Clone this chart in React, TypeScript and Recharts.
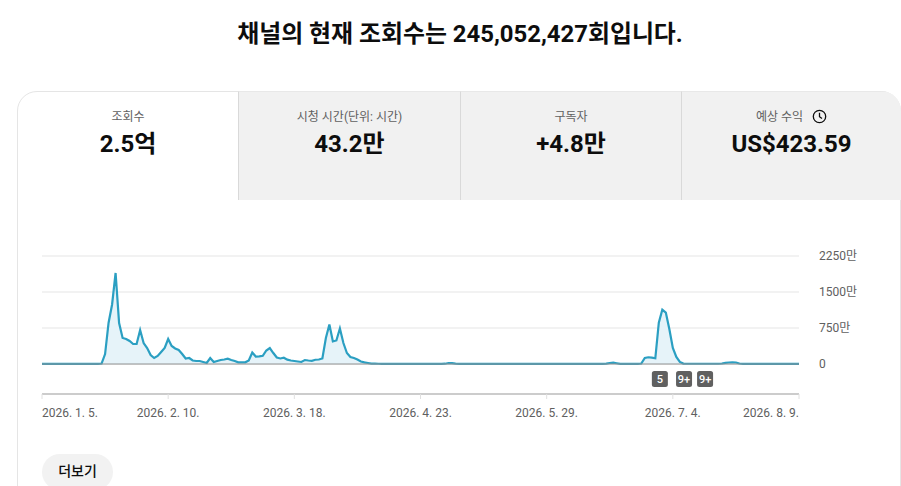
import React from "react";
import { ComposedChart, Area, XAxis, YAxis, CartesianGrid, ReferenceLine, ReferenceDot } from "recharts";

const FONT = 'Roboto, "Noto Sans CJK KR", sans-serif';

// Views per day, in units of 10,000 (만), day 0 = 2026-01-05
const dailyViews: number[] = [
  1, 1, 1, 1, 1, 1, 1, 1, 1, 1, 1, 1, 1, 1, 1, 1, 1, 10, 208, 860,
  1240, 1896, 854, 542, 521, 479, 417, 417, 708, 437, 333, 187, 125, 167, 250, 333, 521, 375, 323, 292,
  208, 115, 125, 73, 62, 62, 42, 21, 125, 42, 62, 83, 94, 110, 83, 62, 35, 35, 35, 73,
  240, 156, 160, 171, 281, 333, 229, 135, 115, 131, 90, 73, 62, 52, 42, 83, 73, 67, 88, 94,
  115, 542, 823, 469, 490, 740, 437, 229, 146, 125, 94, 52, 35, 21, 8, 6, 5, 4, 4, 3,
  3, 3, 3, 3, 3, 3, 3, 3, 3, 3, 3, 3, 3, 3, 4, 6, 21, 17, 6, 3,
  3, 3, 3, 3, 3, 3, 3, 3, 3, 3, 3, 3, 3, 3, 3, 3, 3, 3, 3, 3,
  3, 3, 3, 3, 3, 3, 3, 3, 3, 3, 3, 3, 3, 3, 3, 3, 3, 3, 3, 3,
  3, 8, 21, 27, 15, 4, 4, 4, 4, 4, 4, 10, 125, 140, 131, 119, 860, 1130, 1070, 729,
  333, 146, 42, 8, 5, 5, 5, 5, 5, 5, 5, 5, 5, 5, 10, 25, 31, 35, 31, 10,
  3, 3, 3, 3, 3, 3, 3, 3, 3, 3, 3, 3, 3, 3, 3, 3, 3,
];

const tickDays = [0, 36, 72, 108, 144, 180, 216];
const tickLabels = ["2026. 1. 5.", "2026. 2. 10.", "2026. 3. 18.", "2026. 4. 23.", "2026. 5. 29.", "2026. 7. 4.", "2026. 8. 9."];
const yTicks = [0, 750, 1500, 2250];
const yLabels = ["0", "750만", "1500만", "2250만"];
const eventDays = [176.3, 183.2, 189.2];
const eventLabels = ["5", "9+", "9+"];
const eventLevel = -312;

const tabLabels = ["조회수", "시청 시간(단위: 시간)", "구독자", "예상 수익"];
const tabValues = ["2.5억", "43.2만", "+4.8만", "US$423.59"];
const tabLefts = [18, 238, 460, 681];
const tabWidths = [220, 222, 221, 220];

const chartData = dailyViews.map((views, day) => ({ day, views }));

const XTick = (props: any) => {
  const { x, y, index } = props;
  const anchor = index === 0 ? "start" : index === tickDays.length - 1 ? "end" : "middle";
  return (
    <text x={x} y={y + 16} textAnchor={anchor} fontSize={12} fontFamily={FONT} fill="#606060">
      {tickLabels[index]}
    </text>
  );
};

const YTick = (props: any) => {
  const { x, y, index } = props;
  return (
    <text x={x} y={y + 4} textAnchor="start" fontSize={12} fontFamily={FONT} fill="#606060">
      {yLabels[index]}
    </text>
  );
};

const badge = (label: string) => (props: any) => {
  const { cx, cy } = props;
  return (
    <g>
      <rect x={cx - 8} y={cy - 8} width={16} height={16} rx={2.5} fill="#606060" />
      <text x={cx} y={cy + 4} textAnchor="middle" fontSize={11} fontWeight={500} fontFamily={FONT} fill="#ffffff">
        {label}
      </text>
    </g>
  );
};

const Clock = () => (
  <svg width="15" height="15" viewBox="0 0 15 15" style={{ position: "absolute", left: 130, top: 17 }}>
    <circle cx="7.5" cy="7.5" r="6.2" fill="none" stroke="#0d0d0d" strokeWidth="1.3" />
    <path d="M7.5 3.8V7.7L10 9.6" fill="none" stroke="#0d0d0d" strokeWidth="1.3" />
  </svg>
);

export default function App() {
  return (
    <div style={{ position: "absolute", left: 0, top: 0, width: 901, height: 486, overflow: "hidden", background: "#fff", fontFamily: FONT }}>
      <div style={{ position: "absolute", left: 0, top: 17, width: 920, height: 34, lineHeight: "34px", textAlign: "center", fontSize: 23.9, fontWeight: 700, color: "#0d0d0d" }}>
        채널의 현재 조회수는 245,052,427회입니다.
      </div>

      <div style={{ position: "absolute", left: 17, top: 91, width: 884, height: 500, boxSizing: "border-box", border: "1px solid #e5e5e5", borderRadius: 20, overflow: "hidden" }} />
      <div style={{ position: "absolute", left: 17, top: 91, width: 884, height: 109, borderTopLeftRadius: 20, borderTopRightRadius: 20, overflow: "hidden" }}>
        {tabLabels.map((label, i) => (
          <div
            key={label}
            style={{
              position: "absolute",
              left: tabLefts[i] - 17,
              top: 0,
              width: tabWidths[i],
              height: 109,
              boxSizing: "border-box",
              background: i === 0 ? "transparent" : "#f1f1f1",
              borderLeft: i === 0 ? "none" : "1px solid #d9d9d9",
              borderTop: i === 0 ? "none" : "1px solid #e8e8e8",
              textAlign: "center",
            }}
          >
            <div style={{ position: "absolute", left: i === 3 ? -24 : 0, right: 0, top: i === 0 ? 18 : 17, lineHeight: "17px", fontSize: 12, color: "#606060" }}>{label}</div>
            <div style={{ position: "absolute", left: 0, right: 0, top: i === 0 ? 37 : 36, lineHeight: "32px", fontSize: 24, fontWeight: 700, color: "#0d0d0d" }}>{tabValues[i]}</div>
            {i === 3 ? <Clock /> : null}
          </div>
        ))}
      </div>

      <div style={{ position: "absolute", left: 0, top: 240 }}>
        <ComposedChart width={901} height={180} data={chartData} margin={{ top: 16, right: 0, bottom: 0, left: 42 }}>
          <CartesianGrid horizontal vertical={false} stroke="#f2f2f2" strokeWidth={2} />
          <XAxis
            dataKey="day"
            type="number"
            domain={[0, 216]}
            ticks={tickDays}
            interval={0}
            height={26}
            axisLine={{ stroke: "#cccccc", strokeWidth: 2 }}
            tickLine={{ stroke: "#e0e0e0" }}
            tickSize={5}
            tick={<XTick />}
          />
          <YAxis
            orientation="right"
            width={102}
            type="number"
            domain={[-625, 2250]}
            ticks={yTicks}
            interval={0}
            axisLine={false}
            tickLine={false}
            tickSize={0}
            tickMargin={20}
            tick={<YTick />}
          />
          <ReferenceLine y={0} stroke="#909090" strokeWidth={1} />
          <Area
            dataKey="views"
            type="linear"
            baseValue={0}
            stroke="#2b9fc2"
            strokeWidth={2.2}
            fill="#e6f3f9"
            fillOpacity={1}
            dot={false}
            activeDot={false}
            isAnimationActive={false}
          />
          {eventDays.map((d, i) => (
            <ReferenceDot key={i} x={d} y={eventLevel} ifOverflow="visible" shape={badge(eventLabels[i])} />
          ))}
        </ComposedChart>
      </div>

      <div style={{ position: "absolute", left: 42, top: 454, width: 71, height: 36, lineHeight: "35px", borderRadius: 18, background: "#f2f2f2", textAlign: "center", fontSize: 14, fontWeight: 500, color: "#0d0d0d" }}>
        더보기
      </div>
    </div>
  );
}
